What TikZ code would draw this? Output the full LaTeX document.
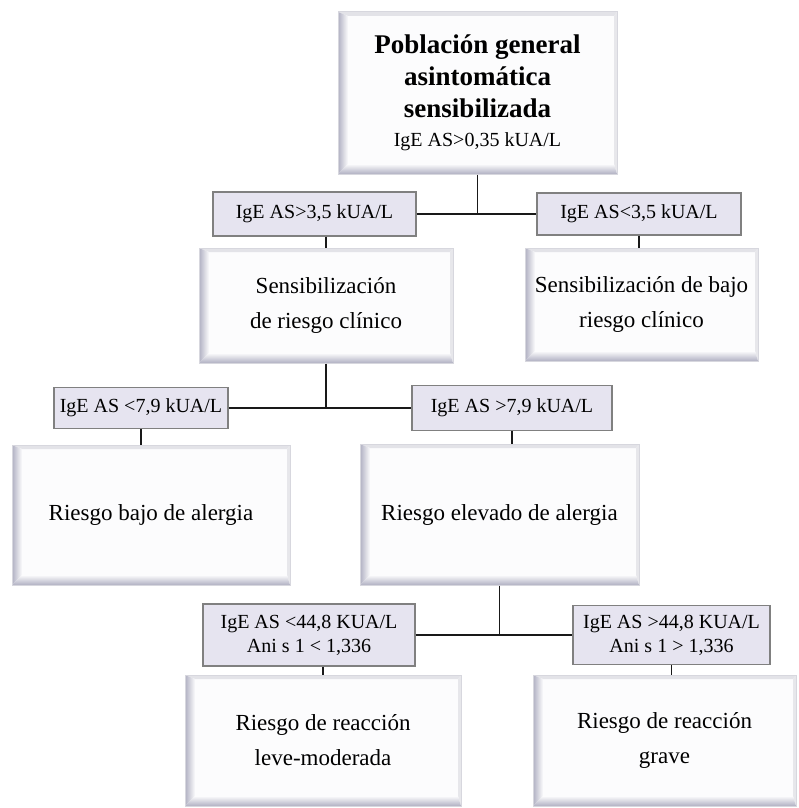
\documentclass[tikz,border=0pt]{standalone}
\usepackage{fontspec}
\setmainfont{Liberation Serif}
\usepackage{tikz}
\usetikzlibrary{positioning, calc}
\definecolor{cutfill}{RGB}{230,228,240}
\definecolor{cutdraw}{RGB}{128,128,128}
\definecolor{bevelshade}{RGB}{176,176,194}
\definecolor{bevelline}{RGB}{215,215,222}
\definecolor{bevelfill}{RGB}{252,252,253}
\tikzstyle{cutoff} = [rectangle, draw=cutdraw, line width=1.3pt, fill=cutfill, inner sep=0pt, align=center, font=\fontsize{20}{24}\selectfont]
\tikzstyle{bevel} = [rectangle, draw=bevelline, line width=1pt, fill=bevelfill, inner sep=0pt, align=center, font=\fontsize{23}{35}\selectfont,
  path picture={
    \coordinate (sw) at (path picture bounding box.south west);
    \coordinate (nw) at (path picture bounding box.north west);
    \coordinate (se) at (path picture bounding box.south east);
    \coordinate (ne) at (path picture bounding box.north east);
    \fill [bevelline!70] (nw) -- (ne) -- ([xshift=-3pt,yshift=-4pt]ne) -- ([xshift=10pt,yshift=-4pt]nw) -- cycle;
    \fill [bevelline!60] (ne) -- (se) -- ([xshift=-3pt,yshift=10pt]se) -- ([xshift=-3pt,yshift=-4pt]ne) -- cycle;
    \shade [left color=bevelshade, right color=bevelfill] (sw) -- (nw) -- ([xshift=10pt,yshift=-4pt]nw) -- ([xshift=10pt,yshift=10pt]sw) -- cycle;
    \shade [bottom color=bevelshade, top color=bevelfill] (sw) -- ([xshift=10pt,yshift=10pt]sw) -- ([xshift=-3pt,yshift=10pt]se) -- (se) -- cycle;
  }]
\tikzstyle{conn} = [line width=1.8pt, black!90]

\begin{document}
\begin{tikzpicture}[x=1pt,y=-1pt]
    \useasboundingbox (0,0) rectangle (798,808);

    \node (poblacion) [bevel, minimum width=279pt, minimum height=162pt, font=\fontsize{27}{32}\selectfont\bfseries] at (477.5,93) {Población general\\asintomática\\sensibilizada\\[-3pt]{\mdseries\fontsize{20}{24}\selectfont IgE AS>0,35 kUA/L}};
    \node (cutA) [cutoff, minimum width=203pt, minimum height=44pt] at (314.5,214) {IgE AS>3,5 kUA/L};
    \node (cutB) [cutoff, minimum width=204pt, minimum height=42pt] at (639,214) {IgE AS<3,5 kUA/L};
    \node (sensriesgo) [bevel, minimum width=254pt, minimum height=115pt] at (326,305.5) {Sensibilización\\de riesgo clínico};
    \node (sensbajo) [bevel, minimum width=233pt, minimum height=113pt] at (641.5,304.5) {Sensibilización de bajo\\riesgo clínico};

    \node (cutC) [cutoff, minimum width=174pt, minimum height=41pt] at (141,408) {IgE AS <7,9 kUA/L};
    \node (cutD) [cutoff, minimum width=200pt, minimum height=45pt] at (512,408) {IgE AS >7,9 kUA/L};
    \node (alergiabajo) [bevel, minimum width=278pt, minimum height=140pt] at (151,515) {Riesgo bajo de alergia};
    \node (alergiaalto) [bevel, minimum width=279pt, minimum height=141pt] at (499.5,514.5) {Riesgo elevado de alergia};

    \node (cutE) [cutoff, minimum width=212pt, minimum height=62pt] at (309,635) {IgE AS <44,8 KUA/L\\Ani s 1 < 1,336};
    \node (cutF) [cutoff, minimum width=197pt, minimum height=59pt] at (671.5,635) {IgE AS >44,8 KUA/L\\Ani s 1 > 1,336};
    \node (reaccionleve) [bevel, minimum width=276pt, minimum height=131pt] at (323,740.5) {Riesgo de reacción\\leve-moderada};
    \node (reacciongrave) [bevel, minimum width=263pt, minimum height=131pt] at (664.5,740.5) {Riesgo de reacción\\grave};

    \draw [conn] (poblacion.south) -- (poblacion.south |- cutA.east);
    \draw [conn] (cutA.east) -- (cutB.west);
    \draw [conn] (cutA.south -| sensriesgo.north) -- (sensriesgo.north);
    \draw [conn] (cutB.south) -- (cutB.south |- sensbajo.north);

    \draw [conn] (sensriesgo.south) -- (sensriesgo.south |- cutC.east);
    \draw [conn] (cutC.east) -- (cutD.west);
    \draw [conn] (cutC.south) -- (cutC.south |- alergiabajo.north);
    \draw [conn] (cutD.south) -- (cutD.south |- alergiaalto.north);

    \draw [conn] (alergiaalto.south) -- (alergiaalto.south |- cutE.east);
    \draw [conn] (cutE.east) -- (cutF.west);
    \draw [conn] (cutE.south -| reaccionleve.north) -- (reaccionleve.north);
    \draw [conn] (cutF.south) -- (cutF.south |- reacciongrave.north);
  \end{tikzpicture}
\end{document}
